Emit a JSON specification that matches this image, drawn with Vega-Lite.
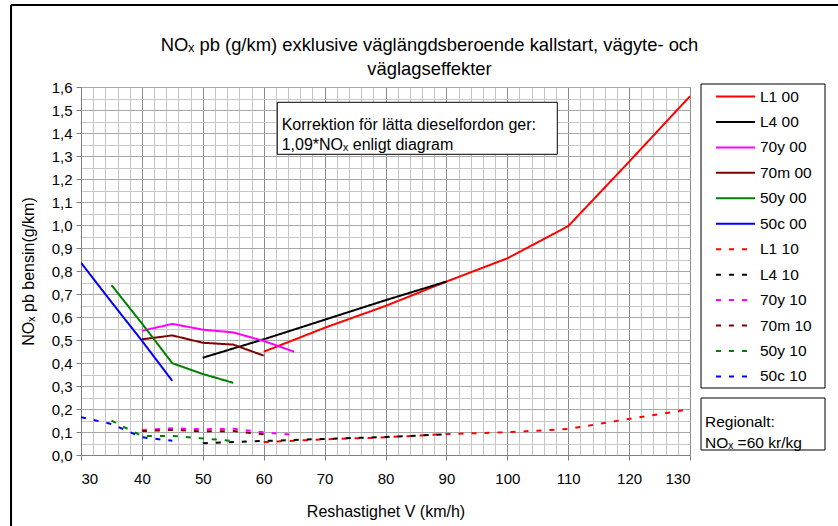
{
  "$schema": "https://vega.github.io/schema/vega-lite/v6.json",
  "width": 609,
  "height": 368,
  "autosize": {"type": "none"},
  "padding": {"left": 81, "top": 87, "right": 148, "bottom": 71},
  "background": "white",
  "title": {
    "text": ["NOₓ pb (g/km) exklusive väglängdsberoende kallstart, vägyte- och", "väglagseffekter"],
    "fontSize": 18.4, "fontWeight": "normal", "font": "Liberation Sans", "color": "black",
    "anchor": "middle", "dx": 44, "dy": 88, "offset": 14, "lineHeight": 24
  },
  "data": {
    "values": [
      {"serie": "L1 00", "hastighet": 60, "nox": 0.449},
      {"serie": "L1 00", "hastighet": 70, "nox": 0.553},
      {"serie": "L1 00", "hastighet": 80, "nox": 0.648},
      {"serie": "L1 00", "hastighet": 90, "nox": 0.754},
      {"serie": "L1 00", "hastighet": 100, "nox": 0.855},
      {"serie": "L1 00", "hastighet": 110, "nox": 0.995},
      {"serie": "L1 00", "hastighet": 120, "nox": 1.275},
      {"serie": "L1 00", "hastighet": 130, "nox": 1.56},
      {"serie": "L4 00", "hastighet": 50, "nox": 0.423},
      {"serie": "L4 00", "hastighet": 60, "nox": 0.503},
      {"serie": "L4 00", "hastighet": 70, "nox": 0.588},
      {"serie": "L4 00", "hastighet": 80, "nox": 0.673},
      {"serie": "L4 00", "hastighet": 90, "nox": 0.754},
      {"serie": "70y 00", "hastighet": 40, "nox": 0.54},
      {"serie": "70y 00", "hastighet": 45, "nox": 0.57},
      {"serie": "70y 00", "hastighet": 50, "nox": 0.545},
      {"serie": "70y 00", "hastighet": 55, "nox": 0.533},
      {"serie": "70y 00", "hastighet": 60, "nox": 0.496},
      {"serie": "70y 00", "hastighet": 65, "nox": 0.449},
      {"serie": "70m 00", "hastighet": 40, "nox": 0.503},
      {"serie": "70m 00", "hastighet": 45, "nox": 0.52},
      {"serie": "70m 00", "hastighet": 50, "nox": 0.488},
      {"serie": "70m 00", "hastighet": 55, "nox": 0.48},
      {"serie": "70m 00", "hastighet": 60, "nox": 0.432},
      {"serie": "50y 00", "hastighet": 35, "nox": 0.739},
      {"serie": "50y 00", "hastighet": 40, "nox": 0.572},
      {"serie": "50y 00", "hastighet": 45, "nox": 0.399},
      {"serie": "50y 00", "hastighet": 50, "nox": 0.352},
      {"serie": "50y 00", "hastighet": 55, "nox": 0.314},
      {"serie": "50c 00", "hastighet": 30, "nox": 0.836},
      {"serie": "50c 00", "hastighet": 35, "nox": 0.665},
      {"serie": "50c 00", "hastighet": 40, "nox": 0.497},
      {"serie": "50c 00", "hastighet": 45, "nox": 0.322},
      {"serie": "L1 10", "hastighet": 60, "nox": 0.056},
      {"serie": "L1 10", "hastighet": 70, "nox": 0.068},
      {"serie": "L1 10", "hastighet": 80, "nox": 0.077},
      {"serie": "L1 10", "hastighet": 90, "nox": 0.091},
      {"serie": "L1 10", "hastighet": 100, "nox": 0.099},
      {"serie": "L1 10", "hastighet": 110, "nox": 0.113},
      {"serie": "L1 10", "hastighet": 120, "nox": 0.157},
      {"serie": "L1 10", "hastighet": 130, "nox": 0.199},
      {"serie": "L4 10", "hastighet": 50, "nox": 0.051},
      {"serie": "L4 10", "hastighet": 60, "nox": 0.061},
      {"serie": "L4 10", "hastighet": 70, "nox": 0.07},
      {"serie": "L4 10", "hastighet": 80, "nox": 0.078},
      {"serie": "L4 10", "hastighet": 90, "nox": 0.09},
      {"serie": "70y 10", "hastighet": 40, "nox": 0.109},
      {"serie": "70y 10", "hastighet": 45, "nox": 0.116},
      {"serie": "70y 10", "hastighet": 50, "nox": 0.112},
      {"serie": "70y 10", "hastighet": 55, "nox": 0.114},
      {"serie": "70y 10", "hastighet": 60, "nox": 0.099},
      {"serie": "70y 10", "hastighet": 65, "nox": 0.087},
      {"serie": "70m 10", "hastighet": 40, "nox": 0.104},
      {"serie": "70m 10", "hastighet": 45, "nox": 0.109},
      {"serie": "70m 10", "hastighet": 50, "nox": 0.103},
      {"serie": "70m 10", "hastighet": 55, "nox": 0.104},
      {"serie": "70m 10", "hastighet": 60, "nox": 0.09},
      {"serie": "50y 10", "hastighet": 35, "nox": 0.149},
      {"serie": "50y 10", "hastighet": 40, "nox": 0.083},
      {"serie": "50y 10", "hastighet": 45, "nox": 0.083},
      {"serie": "50y 10", "hastighet": 50, "nox": 0.072},
      {"serie": "50y 10", "hastighet": 55, "nox": 0.061},
      {"serie": "50c 10", "hastighet": 30, "nox": 0.164},
      {"serie": "50c 10", "hastighet": 35, "nox": 0.135},
      {"serie": "50c 10", "hastighet": 40, "nox": 0.077},
      {"serie": "50c 10", "hastighet": 45, "nox": 0.062}
    ]
  },
  "layer": [
    {
      "data": {"values": [{}]},
      "mark": {"type": "rule", "color": "black", "strokeWidth": 2},
      "encoding": {"x": {"datum": 18.51, "type": "quantitative"}, "y": {"datum": 1.9565, "type": "quantitative"}, "y2": {"datum": -0.5}}
    },
    {
      "data": {"values": [{}]},
      "mark": {"type": "rule", "color": "black", "strokeWidth": 2},
      "encoding": {"x": {"datum": 18.51, "type": "quantitative"}, "x2": {"datum": 160}, "y": {"datum": 1.9565, "type": "quantitative"}}
    },
    {
      "data": {"values": [{}]},
      "mark": {"type": "rect", "fill": "white", "stroke": "black", "strokeWidth": 1},
      "encoding": {"x": {"datum": 131.81, "type": "quantitative"}, "x2": {"datum": 152.17}, "y": {"datum": 1.613, "type": "quantitative"}, "y2": {"datum": 0.2913}}
    },
    {
      "mark": {"type": "line", "strokeWidth": 2, "clip": true},
      "encoding": {
        "x": {
          "field": "hastighet", "type": "quantitative",
          "scale": {"domain": [30, 130], "nice": false, "zero": false},
          "axis": {
            "title": "Reshastighet V (km/h)",
            "values": [30,32,34,36,38,40,42,44,46,48,50,52,54,56,58,60,62,64,66,68,70,72,74,76,78,80,82,84,86,88,90,92,94,96,98,100,102,104,106,108,110,112,114,116,118,120,122,124,126,128,130],
            "tickCount": 100,
            "labelExpr": "datum.value % 10 === 0 ? datum.label : ''",
            "labelOverlap": false,
            "grid": true,
            "gridColor": {"condition": {"test": "datum.value % 10 === 0", "value": "#8c8c8c"}, "value": "#c4c4c4"},
            "tickOpacity": {"condition": {"test": "datum.value % 10 === 0", "value": 1}, "value": 0},
            "tickSize": 5, "labelPadding": 11, "titlePadding": 17
          }
        },
        "y": {
          "field": "nox", "type": "quantitative",
          "scale": {"domain": [0, 1.6], "nice": false, "zero": false},
          "axis": {
            "title": "NOₓ pb bensin(g/km)",
            "values": [0,0.05,0.1,0.15,0.2,0.25,0.3,0.35,0.4,0.45,0.5,0.55,0.6,0.65,0.7,0.75,0.8,0.85,0.9,0.95,1.0,1.05,1.1,1.15,1.2,1.25,1.3,1.35,1.4,1.45,1.5,1.55,1.6],
            "tickCount": 100,
            "labelExpr": "round(datum.value*100) % 10 === 0 ? replace(format(datum.value, '.1f'), '.', ',') : ''",
            "labelOverlap": false,
            "grid": true,
            "gridColor": {"condition": {"test": "round(datum.value*100) % 10 === 0", "value": "#a8a8a8"}, "value": "#c8c8c8"},
            "tickOpacity": {"condition": {"test": "round(datum.value*100) % 10 === 0", "value": 1}, "value": 0},
            "tickSize": 5, "labelPadding": 4, "titlePadding": 15
          }
        },
        "color": {
          "field": "serie", "type": "nominal",
          "scale": {
            "domain": ["L1 00","L4 00","70y 00","70m 00","50y 00","50c 00","L1 10","L4 10","70y 10","70m 10","50y 10","50c 10"],
            "range": ["#ff0000","#000000","#ff00ff","#800000","#008000","#0000ff","#ff0000","#000000","#ff00ff","#800000","#008000","#0000ff"]
          },
          "legend": {"title": null}
        },
        "strokeDash": {
          "field": "serie", "type": "nominal",
          "scale": {
            "domain": ["L1 00","L4 00","70y 00","70m 00","50y 00","50c 00","L1 10","L4 10","70y 10","70m 10","50y 10","50c 10"],
            "range": [[1,0],[1,0],[1,0],[1,0],[1,0],[1,0],[5,8],[5,8],[5,8],[5,8],[5,8],[5,8]]
          },
          "legend": {"title": null}
        }
      }
    },
    {
      "data": {"values": [{}]},
      "mark": {"type": "rect", "fill": "white", "stroke": "black", "strokeWidth": 1},
      "encoding": {"x": {"datum": 62.23, "type": "quantitative"}, "x2": {"datum": 108.21}, "y": {"datum": 1.5335, "type": "quantitative"}, "y2": {"datum": 1.3074}}
    },
    {
      "data": {"values": [{}]},
      "mark": {"type": "text", "text": ["Korrektion för lätta dieselfordon ger:", "1,09*NOₓ enligt diagram"], "align": "left", "baseline": "middle", "fontSize": 16, "lineHeight": 20, "color": "black"},
      "encoding": {"x": {"datum": 62.95, "type": "quantitative"}, "y": {"datum": 1.4348, "type": "quantitative"}}
    },
    {
      "data": {"values": [{}]},
      "mark": {"type": "rect", "fill": "white", "stroke": "black", "strokeWidth": 1},
      "encoding": {"x": {"datum": 131.81, "type": "quantitative"}, "x2": {"datum": 152.17}, "y": {"datum": 0.2478, "type": "quantitative"}, "y2": {"datum": 0.0217}}
    },
    {
      "data": {"values": [{}]},
      "mark": {"type": "text", "text": ["Regionalt:", "NOₓ =60 kr/kg"], "align": "left", "baseline": "middle", "fontSize": 15.5, "lineHeight": 21, "color": "black"},
      "encoding": {"x": {"datum": 132.46, "type": "quantitative"}, "y": {"datum": 0.1435, "type": "quantitative"}}
    }
  ],
  "config": {
    "font": "Liberation Sans",
    "view": {"stroke": "#808080", "strokeWidth": 1},
    "axis": {
      "domainColor": "#808080", "tickColor": "#808080",
      "labelFontSize": 15, "labelColor": "black", "labelFont": "Liberation Sans",
      "titleFontSize": 16, "titleFontWeight": "normal", "titleColor": "black", "titleFont": "Liberation Sans"
    },
    "legend": {
      "orient": "none", "legendX": 634, "legendY": -3,
      "padding": 0, "symbolType": "stroke", "symbolSize": 1521, "symbolStrokeWidth": 2,
      "labelFontSize": 15.5, "labelColor": "black", "labelOffset": 4, "rowPadding": 0.45, "clipHeight": 25, "labelFont": "Liberation Sans"
    }
  }
}
